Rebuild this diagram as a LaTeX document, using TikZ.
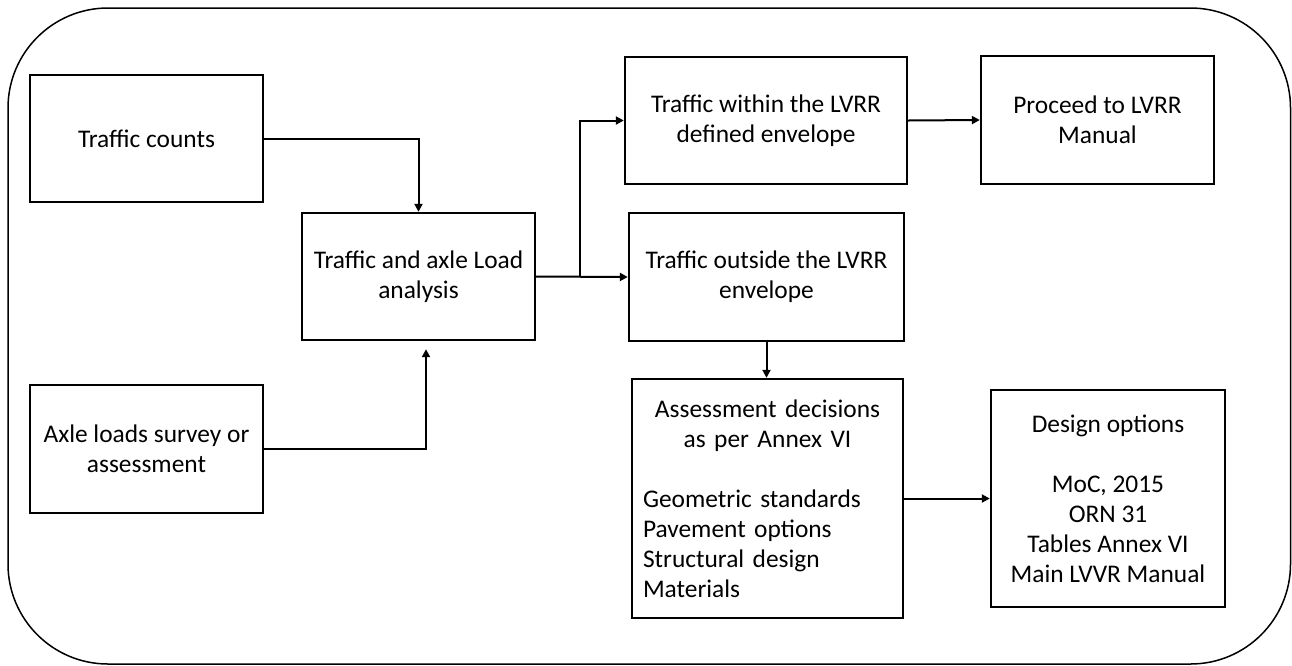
\documentclass[tikz,border=0pt]{standalone}
\usepackage{fontspec}
\setmainfont{Carlito}
\usetikzlibrary{arrows.meta,calc}

\begin{document}
\begin{tikzpicture}[x=1pt, y=-1pt, line join=miter, >={Triangle[length=8pt,width=8pt]},
    font=\fontsize{25.4}{30}\selectfont,
    stage/.style={draw, line width=2.4pt, align=center, inner sep=4pt},
    flow/.style={->, line width=2pt}]
  \useasboundingbox (0,0) rectangle (1292,665);
  \draw[line width=1.5pt, rounded corners=100pt] (8,8) rectangle (1290.5,664);

  % inputs
  \node[stage, minimum width=233pt, minimum height=127pt] (counts) at (146.5,138.5) {Traffic counts};
  \node[stage, minimum width=233pt, minimum height=128pt] (axle) at (146.5,449) {Axle loads survey or\\assessment};
  \node[stage, minimum width=233pt, minimum height=127pt] (analysis) at (418.5,276.5) {Traffic and axle Load\\analysis};

  % envelope check
  \node[stage, minimum width=282pt, minimum height=127pt] (within) at (766,120.5) {Traffic within the LVRR\\defined envelope};
  \node[stage, minimum width=233pt, minimum height=128pt] (proceed) at (1097.5,120) {Proceed to LVRR\\Manual};
  \node[stage, minimum width=275pt, minimum height=128pt] (outside) at (766.5,277) {Traffic outside the LVRR\\envelope};

  % decisions
  \node[stage, minimum width=271pt, minimum height=239pt, text width=249pt, inner sep=11pt, align=left] (assess) at (767.5,498.5)
    {\makebox[249pt]{Assessment decisions}\\\makebox[249pt]{as per Annex VI}\\[30pt]Geometric standards\\Pavement options\\Structural design\\Materials};
  \node[stage, minimum width=234pt, minimum height=217pt] (design) at (1108,498.5)
    {Design options\\[30pt]MoC, 2015\\ORN 31\\Tables Annex VI\\Main LVVR Manual};

  \coordinate (split) at ($(analysis.east)!0.48!(outside.west)$);

  \draw[flow] (counts.east) -| (analysis.north);
  \draw[flow] (axle.east) -| ([xshift=7.5pt,yshift=-8pt]analysis.south);
  \draw[flow] (analysis.east) -- (outside.west);
  \draw[flow] (split) |- (within.west);
  \draw[flow] (within.east) -- (proceed.west);
  \draw[flow] (outside.south) -- (outside.south |- assess.north);
  \draw[flow] (assess.east) -- (design.west);
\end{tikzpicture}
\end{document}
